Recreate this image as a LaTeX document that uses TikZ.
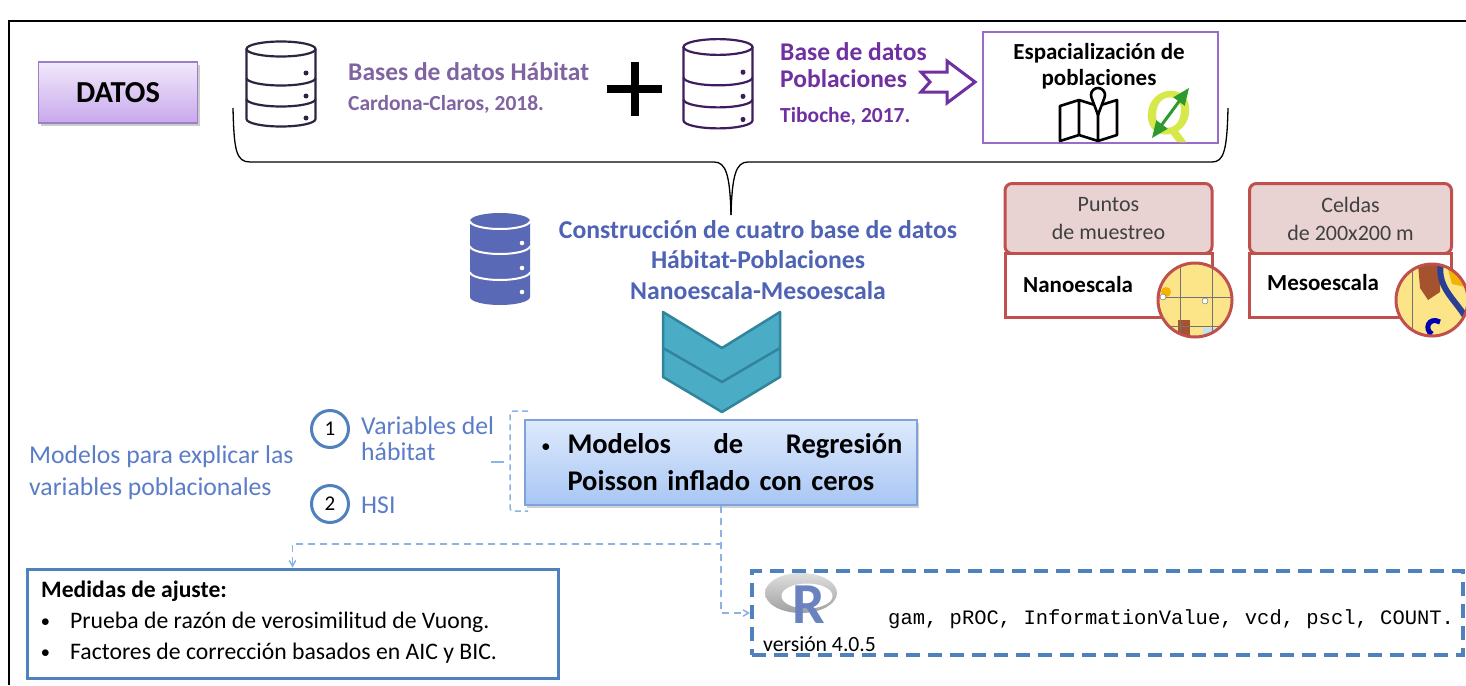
\documentclass[tikz,border=0pt]{standalone}
\usepackage{fontspec}
\setmainfont{Carlito}
\setmonofont{Liberation Mono}
\usetikzlibrary{arrows,positioning,shadows}

\definecolor{lila}{HTML}{8064A2}
\definecolor{lilaclaro}{HTML}{F1E9FB}
\definecolor{lilaoscuro}{HTML}{C8A8EC}
\definecolor{lilaborde}{HTML}{9B80C4}
\definecolor{morado}{HTML}{7030A0}
\definecolor{bdnegro}{HTML}{2E2440}
\definecolor{bdmorado}{HTML}{3E1D5E}
\definecolor{espborde}{HTML}{9A6BCB}
\definecolor{azulbd}{HTML}{5A69B5}
\definecolor{azultxt}{HTML}{4E63B4}
\definecolor{azulcl}{HTML}{5B7DC9}
\definecolor{azulof}{HTML}{4F81BD}
\definecolor{azuldash}{HTML}{8DB3E2}
\definecolor{azulsup}{HTML}{DEEAFC}
\definecolor{azulinf}{HTML}{A8C6F4}
\definecolor{azulborde}{HTML}{7FA3D9}
\definecolor{turq}{HTML}{4BACC6}
\definecolor{turqosc}{HTML}{31849B}
\definecolor{rojo}{HTML}{C0504D}
\definecolor{rosa}{HTML}{E8D3D2}
\definecolor{mapa}{HTML}{FCE588}
\definecolor{cafe}{HTML}{A5522E}
\definecolor{naranja}{HTML}{F5B301}
\definecolor{rio}{HTML}{2B3F94}
\definecolor{celeste}{HTML}{BFE3F2}
\definecolor{qgisam}{HTML}{D6E84A}
\definecolor{qgisve}{HTML}{2E9A2E}
\definecolor{razul}{HTML}{6A82C0}

\newcommand{\tam}[2]{\fontsize{#1}{#2}\selectfont}
\newcommand{\vineta}{\raisebox{1.5pt}{\tam{16}{16}$\bullet$}}

% icono de base de datos (contorno)
\newcommand{\bdicono}[4]{%
  \begin{scope}[shift={(#1,#2)},yscale=#4,color=#3,line width=2.2pt]
    \draw (0,0) ellipse[x radius=34.5,y radius=7.5];
    \draw (-34.5,0) -- (-34.5,70) arc[start angle=180,end angle=0,x radius=34.5,y radius=7.5] -- (34.5,0);
    \foreach \s in {29,50}
      \draw (-34.5,\s) arc[start angle=180,end angle=0,x radius=34.5,y radius=7.5];
    \foreach \s in {24,47,69}
      \fill (25,\s) circle (2.5);
  \end{scope}}

\begin{document}
\begin{tikzpicture}[x=1pt,y=-1pt,inner sep=0pt,>=angle 60]
	\tikzstyle{datos}=[rectangle,draw=lilaborde,line width=1.2pt,top color=lilaclaro,bottom color=lilaoscuro,minimum width=159pt,minimum height=61pt,drop shadow={opacity=.4,shadow xshift=2pt,shadow yshift=-3pt},font=\bfseries\tam{30.5}{30.5}]
	\tikzstyle{titlila}=[anchor=base west,align=left,text=lila,font=\bfseries\tam{25.5}{27}]
	\tikzstyle{reflila}=[anchor=base west,text=lila,font=\bfseries\tam{21.5}{21.5}]
	\tikzstyle{titmor}=[anchor=base west,align=left,text=morado,font=\bfseries\tam{25.5}{27}]
	\tikzstyle{refmor}=[anchor=base west,text=morado,font=\bfseries\tam{21.5}{21.5}]
	\tikzstyle{espbox}=[rectangle,draw=espborde,line width=1.5pt,minimum width=235pt,minimum height=111pt]
	\tikzstyle{esptxt}=[anchor=base,align=center,font=\bfseries\tam{23}{26}]
	\tikzstyle{constr}=[anchor=base,align=center,text=azultxt,font=\bfseries\tam{25.7}{30.5}]
	\tikzstyle{cardtop}=[rectangle,rounded corners=7pt,draw=rojo,line width=3pt,fill=rosa,minimum height=70pt,align=center,text=black!75,font=\tam{22}{28}]
	\tikzstyle{cardbot}=[rectangle,draw=rojo,line width=3pt,fill=white,minimum height=64pt]
	\tikzstyle{escala}=[anchor=base west,font=\bfseries\tam{23}{23}]
	\tikzstyle{azultx}=[anchor=base west,align=left,text=azulcl,font=\tam{25.7}{32}]
	\tikzstyle{num}=[circle,draw=azulof,line width=3pt,fill=white,minimum size=37pt,font=\tam{21}{21}]
	\tikzstyle{modbox}=[rectangle,draw=azulborde,line width=1.5pt,top color=azulsup,bottom color=azulinf,minimum width=392pt,minimum height=85pt,drop shadow={opacity=.35,shadow xshift=2pt,shadow yshift=-3pt},text width=363pt,align=left,font=\bfseries\tam{28.5}{37}]
	\tikzstyle{conn}=[draw=azuldash,line width=1.5pt,dash pattern=on 7pt off 5pt,->]
	\tikzstyle{medbox}=[rectangle,draw=azulof,line width=3pt,fill=white,minimum width=531pt,minimum height=109pt]
	\tikzstyle{medtx}=[anchor=base west,font=\tam{23.7}{23.7}]
	\tikzstyle{rbox}=[rectangle,draw=azulof,line width=4pt,dash pattern=on 14pt off 8pt,fill=white,minimum width=711pt,minimum height=84pt]
	
	\useasboundingbox (0,0) rectangle (1466,685);
	\fill[white] (0,0) rectangle (1466,685);
	\draw[line width=2pt] (1466,21) -- (9,21) -- (9,685);
	
	% datos de entrada
	\node[datos] (DATOS) at (118,92.5) {DATOS};
	\bdicono{281}{49}{bdnegro}{1}
	\node[titlila] (BDH) at (348,80) {Bases de datos Hábitat};
	\node[reflila] (BDHref) at (348,110) {Cardona-Claros, 2018.};
	\draw[line width=8pt] (607,89) -- (662,89) (634.5,62) -- (634.5,116);
	\bdicono{718}{47}{bdmorado}{1.05}
	\node[titmor] (BDP) at (780,87) {Base de datos\\Poblaciones};
	\node[refmor] (BDPref) at (780,122) {Tiboche, 2017.};
	\draw[morado,line width=3pt,fill=white] (921,72) -- (947,72) -- (947,61) -- (975,82) -- (947,103) -- (947,92) -- (921,92) -- (930,82) -- cycle;
	
	\node[espbox] (ESP) at (1100.5,87.5) {};
	\node[esptxt] (ESPt) at (1099,85) {Espacialización de\\poblaciones};
	\draw[line width=2.6pt,line join=round] (1060,106) -- (1079,100) -- (1098,106) -- (1117,100) -- (1117,135) -- (1098,141) -- (1079,135) -- (1060,141) -- cycle
		(1079,100) -- (1079,135) (1098,114) -- (1098,141);
	\draw[line width=2.6pt,line join=round,fill=white] (1098,115) -- (1091.4,97.4) arc[start angle=160,end angle=380,radius=7] -- cycle;
	\node[font=\bfseries\itshape\tam{66}{66},text=qgisam,anchor=base] (QG) at (1168,134) {Q};
	\draw[qgisve,line width=3pt,triangle 45-triangle 45] (1152,138) -- (1189,88);
	
	% llave
	\draw[line width=1.3pt] (233,108) .. controls (234,150) and (236,162) .. (250,162) -- (714,162) .. controls (726,162) and (730,175) .. (731,215);
	\draw[line width=1.3pt] (731,215) .. controls (732,175) and (736,162) .. (748,162) -- (1212,162) .. controls (1224,162) and (1227,150) .. (1228,108);
	
	% construccion
	\begin{scope}[shift={(500,221)}]
		\fill[azulbd] (-30,0) -- (-30,76) arc[start angle=180,end angle=0,x radius=30,y radius=8] -- (30,0) arc[start angle=0,end angle=-180,x radius=30,y radius=8] -- cycle;
		\foreach \s in {0,25,51}
			\draw[white,line width=2pt] (-30,\s) arc[start angle=180,end angle=0,x radius=30,y radius=8];
		\foreach \s in {22,47,71}
			\fill[white] (22,\s) circle (2.3);
	\end{scope}
	\node[constr] (CONS) at (758,299) {Construcción de cuatro base de datos\\Hábitat-Poblaciones\\Nanoescala-Mesoescala};
	\filldraw[fill=turq,draw=turqosc,line width=2.5pt,line join=round] (663,312) -- (722,348) -- (780,312) -- (780,377) -- (722,412) -- (663,377) -- cycle;
	\draw[turqosc,line width=2.5pt] (663,348) -- (722,382) -- (780,348);
	
	% escalas
	\node[cardtop,minimum width=207pt] (PUN) at (1108.5,218.5) {Puntos\\de muestreo};
	\node[cardbot,minimum width=207pt,below=-3pt of PUN] (NANO) {};
	\node[escala] (NANOt) at (1023,292) {Nanoescala};
	\node[cardtop,minimum width=202pt] (CEL) at (1350.5,218.5) {Celdas\\de 200x200 m};
	\node[cardbot,minimum width=202pt,below=-3pt of CEL] (MESO) {};
	\node[escala] (MESOt) at (1267,290) {Mesoescala};
	\begin{scope}
		\clip (1195,300) circle (37);
		\fill[mapa] (1195,300) circle (37);
		\fill[celeste] (1203,328) rectangle (1235,345);
		\fill[cafe] (1178,320) rectangle (1190,340);
		\fill[naranja] (1166,292) circle (5);
		\draw[black!55,line width=1pt] (1180,260) -- (1180,340) (1212,260) -- (1212,340) (1155,297) -- (1235,297) (1155,326) -- (1235,326);
		\filldraw[fill=white,draw=black!60] (1163,297) circle (3) (1205,301) circle (3);
	\end{scope}
	\draw[rojo,line width=3pt] (1195,300) circle (37);
	\begin{scope}
		\clip (1432,300) circle (36);
		\fill[mapa] (1432,300) circle (36);
		\fill[naranja] (1446,262) -- (1470,262) -- (1470,288) -- (1452,284) -- cycle;
		\fill[cafe] (1418,264) -- (1440,264) -- (1440,292) -- (1428,300) -- (1420,288) -- cycle;
		\draw[rio,line width=6pt] (1441,262) .. controls (1436,290) and (1458,300) .. (1470,325);
		\draw[black!55,line width=1pt] (1412,262) -- (1412,340);
		\draw[blue!70!black,line width=5pt] (1440,322) .. controls (1428,316) and (1424,330) .. (1432,334);
	\end{scope}
	\draw[rojo,line width=3pt] (1432,300) circle (36);
	
	% modelos
	\node[azultx] (EXPL) at (29,495) {Modelos para explicar las\\variables poblacionales};
	\node[num] (N1) at (330,429) {1};
	\node[num] (N2) at (330,504) {2};
	\node[azultx,font=\tam{25.7}{25.5}] (VAR) at (361,460) {Variables del\\hábitat};
	\node[azultx] (HSI) at (361,513) {HSI};
	\draw[azuldash,line width=1.5pt,dash pattern=on 6pt off 4pt,rounded corners=3pt] (528,411) -- (510,411) -- (510,511) -- (528,511);
	\draw[azuldash,line width=1.5pt] (491,462) -- (504,462);
	\node[modbox] (MOD) at (721,462.5) {\hbox to 363pt{\makebox[28pt][l]{\hspace{2pt}\raisebox{2pt}{\tam{19}{19}$\bullet$}}Modelos\hfill de\hfill Regresión}\\\hspace*{28pt}Poisson inflado con ceros};
	
	% ajuste y programas
	\node[medbox] (MED) at (292.5,623.5) {};
	\node[medtx,font=\bfseries\tam{23.6}{23.6}] (MEDt) at (41,597) {Medidas de ajuste:};
	\foreach \y/\t in {628/{Prueba de razón de verosimilitud de Vuong.},659/{Factores de corrección basados en AIC y BIC.}}{
		\node[medtx] (b\y) at (41,\y) {\vineta};
		\node[medtx] (t\y) at (70,\y) {\t};
	}
	\node[rbox] (RBOX) at (1107.5,613) {};
	\shade[top color=gray!25,bottom color=gray!75] (801,593) ellipse[x radius=36,y radius=20];
	\fill[white] (807,596) ellipse[x radius=25.5,y radius=12.5];
	\node[anchor=base west,text=razul,font=\bfseries\tam{58}{58}] (RLET) at (792,623) {R};
	\node[anchor=base west,font=\tam{21.7}{21.7}] (RVER) at (763,651) {versión 4.0.5};
	\node[anchor=base west,font=\ttfamily\tam{20.5}{20.5}] (PAQ) at (888,624) {gam, pROC, InformationValue, vcd, pscl, COUNT.};
	
	\draw[conn] (MOD.south) -- ++(0,38) -| (MED.north);
	\draw[conn] (MOD.south) |- (RBOX.west);
\end{tikzpicture}
\end{document}
